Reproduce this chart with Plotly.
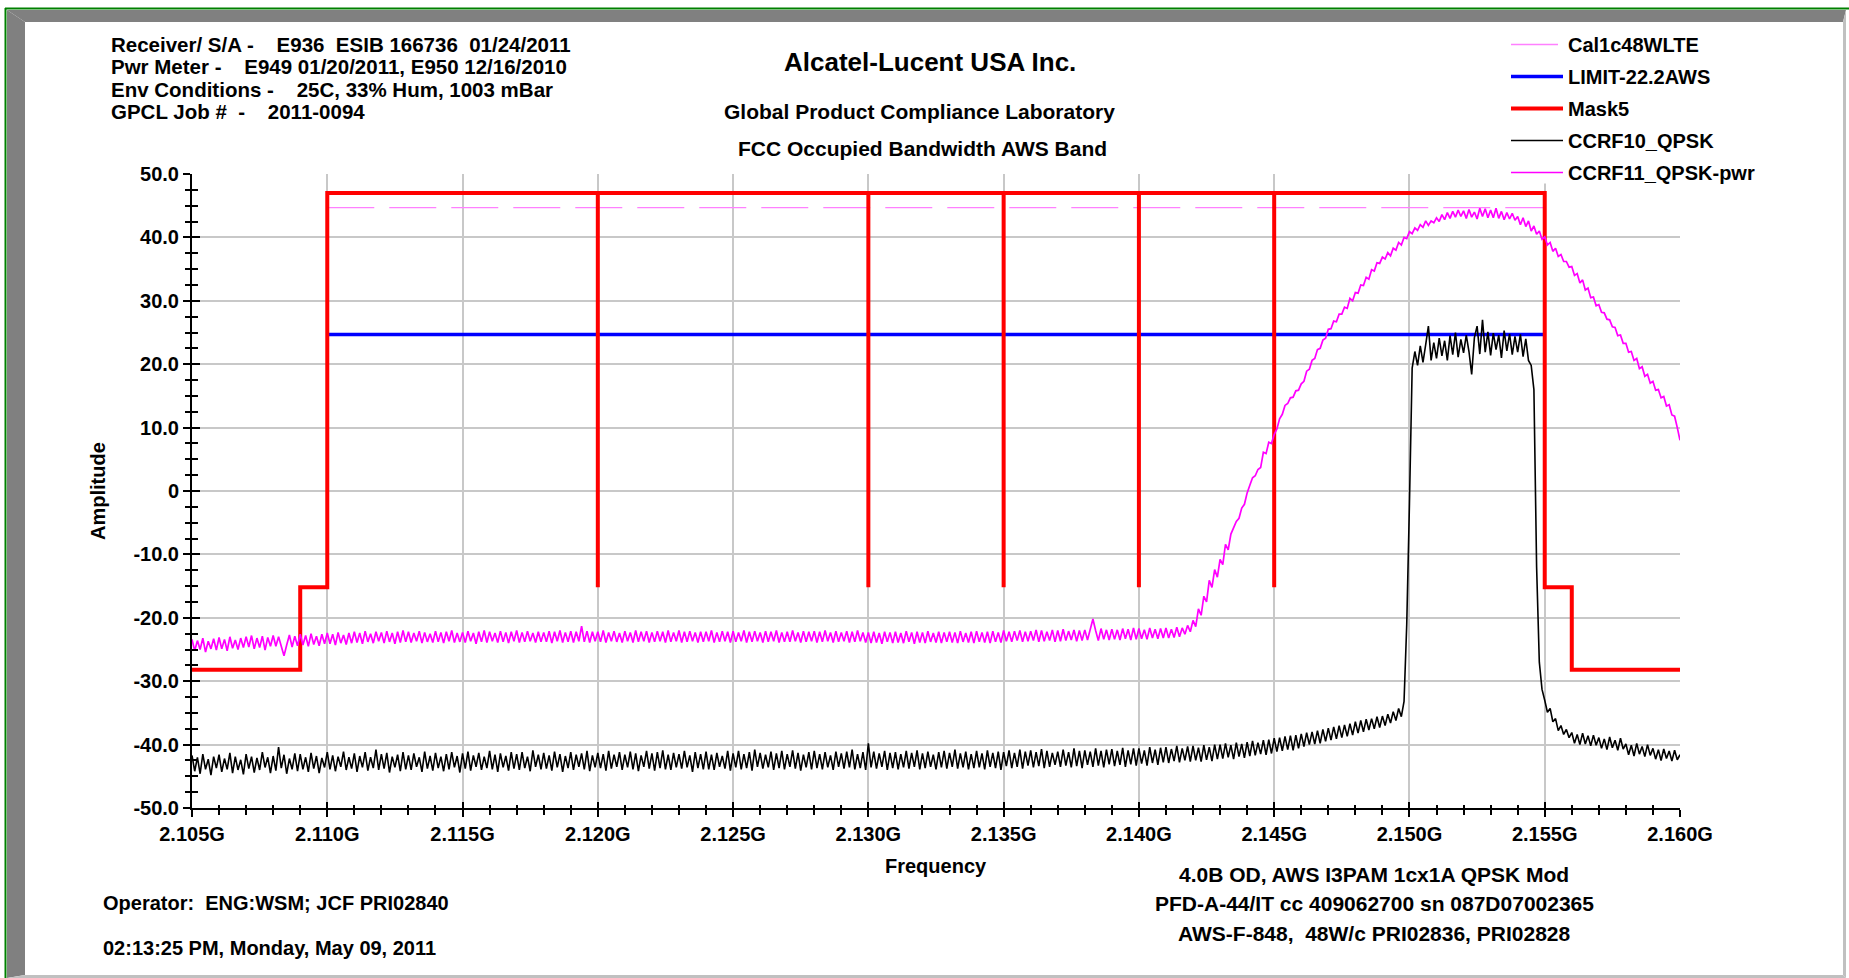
import numpy as np
import plotly.graph_objects as go

# ---------------- data ----------------
FREQ_START_GHZ = 2.105
FREQ_STOP_GHZ = 2.160
N_POINTS = 551

x_tick_vals = [2.105, 2.110, 2.115, 2.120, 2.125, 2.130, 2.135, 2.140, 2.145, 2.150, 2.155, 2.160]
x_tick_text = ["2.105G", "2.110G", "2.115G", "2.120G", "2.125G", "2.130G", "2.135G",
               "2.140G", "2.145G", "2.150G", "2.155G", "2.160G"]
y_tick_vals = [-50, -40, -30, -20, -10, 0, 10, 20, 30, 40, 50]
y_tick_text = ["-50.0", "-40.0", "-30.0", "-20.0", "-10.0", "0", "10.0", "20.0", "30.0", "40.0", "50.0"]

cal_freq = [2.110, 2.155]
cal_level = [44.7, 44.7]

limit_freq = [2.110, 2.155]
limit_level = [24.7, 24.7]

mask_freq = [2.105, 2.109, 2.109, 2.110, 2.110, 2.120, 2.120, 2.120, 2.130, 2.130, 2.130,
             2.135, 2.135, 2.135, 2.140, 2.140, 2.140, 2.145, 2.145, 2.145, 2.155, 2.155,
             2.156, 2.156, 2.160]
mask_level = [-28.2, -28.2, -15.2, -15.2, 47.0, 47.0, -15.2, 47.0, 47.0, -15.2, 47.0,
              47.0, -15.2, 47.0, 47.0, -15.2, 47.0, 47.0, -15.2, 47.0, 47.0, -15.2,
              -15.2, -28.2, -28.2]

ccrf10_qpsk = [
    -41.7, -44.2, -42.0, -44.6, -41.5, -43.9, -42.3, -44.8, -41.9, -43.7,  # 2.105
    -41.6, -44.3, -42.2, -43.9, -41.3, -44.5, -41.9, -44.0, -42.4, -44.7,  # 2.106
    -41.5, -43.8, -41.9, -44.4, -42.1, -44.0, -41.2, -43.6, -42.0, -44.5,  # 2.107
    -41.8, -44.1, -40.4, -43.7, -41.6, -44.6, -42.2, -43.9, -41.4, -44.2,  # 2.108
    -41.5, -43.9, -42.0, -44.3, -41.3, -43.8, -41.8, -44.5, -42.1, -43.6,  # 2.109
    -41.2, -43.9, -41.7, -44.2, -41.9, -43.5, -41.1, -44.0, -42.0, -43.8,  # 2.110
    -41.4, -44.3, -41.8, -43.6, -41.2, -44.1, -42.0, -43.7, -40.8, -44.0,  # 2.111
    -41.5, -43.8, -41.3, -44.4, -41.9, -43.6, -41.6, -44.2, -41.2, -43.9,  # 2.112
    -41.7, -44.0, -41.4, -43.5, -42.0, -44.3, -41.1, -43.8, -41.8, -44.1,  # 2.113
    -41.3, -43.7, -41.9, -44.2, -41.5, -43.9, -41.2, -43.6, -41.8, -44.4,  # 2.114
    -41.4, -43.8, -41.1, -44.1, -41.7, -43.5, -41.3, -44.0, -41.9, -43.7,  # 2.115
    -41.0, -43.9, -41.6, -44.3, -41.4, -43.6, -41.8, -44.1, -41.2, -43.8,  # 2.116
    -41.5, -44.0, -41.2, -43.7, -41.9, -44.2, -40.9, -43.5, -41.6, -43.9,  # 2.117
    -41.3, -43.8, -41.7, -44.1, -41.1, -43.6, -41.5, -44.3, -41.8, -43.7,  # 2.118
    -41.2, -44.0, -41.6, -43.5, -41.4, -43.9, -41.0, -44.2, -41.7, -43.6,  # 2.119
    -41.3, -43.7, -41.5, -44.1, -41.0, -43.8, -41.6, -43.5, -41.2, -44.0,  # 2.120
    -41.6, -43.6, -41.1, -43.9, -41.4, -44.2, -41.7, -43.5, -41.0, -43.8,  # 2.121
    -41.4, -44.1, -41.2, -43.7, -40.9, -43.9, -41.6, -44.0, -41.3, -43.6,  # 2.122
    -41.5, -43.8, -41.0, -43.6, -41.7, -44.3, -41.2, -43.7, -41.5, -43.9,  # 2.123
    -41.1, -43.9, -41.6, -44.0, -41.3, -43.5, -41.8, -43.8, -41.0, -44.1,  # 2.124
    -41.4, -43.6, -41.0, -43.9, -41.5, -43.7, -41.2, -44.1, -40.8, -43.5,  # 2.125
    -41.3, -43.8, -41.6, -43.6, -41.1, -44.0, -41.4, -43.7, -41.0, -43.9,  # 2.126
    -41.5, -43.5, -40.9, -43.8, -41.3, -44.1, -41.6, -43.6, -41.2, -43.9,  # 2.127
    -41.0, -43.7, -41.5, -43.9, -41.2, -43.6, -41.7, -44.0, -41.1, -43.5,  # 2.128
    -41.4, -43.8, -41.1, -43.6, -40.8, -43.9, -41.5, -43.7, -41.2, -44.0,  # 2.129
    -39.8, -43.6, -41.1, -43.8, -41.4, -43.5, -41.0, -44.0, -41.3, -43.7,  # 2.130
    -41.2, -43.9, -41.5, -43.6, -41.0, -43.8, -41.3, -43.5, -40.9, -43.9,  # 2.131
    -41.4, -43.7, -41.1, -43.5, -41.6, -43.9, -41.2, -43.6, -41.0, -43.8,  # 2.132
    -41.3, -43.5, -40.8, -43.8, -41.4, -43.6, -41.1, -43.9, -41.5, -43.7,  # 2.133
    -41.0, -43.6, -41.4, -43.9, -40.9, -43.5, -41.3, -43.7, -41.1, -44.0,  # 2.134
    -41.2, -43.4, -40.9, -43.7, -41.3, -43.5, -40.8, -43.8, -41.1, -43.3,  # 2.135
    -40.9, -43.6, -41.2, -43.4, -40.7, -43.7, -41.0, -43.5, -41.3, -43.2,  # 2.136
    -41.1, -43.5, -40.8, -43.3, -41.2, -43.6, -40.6, -43.4, -41.0, -43.7,  # 2.137
    -40.9, -43.2, -41.1, -43.5, -40.6, -43.3, -41.0, -43.6, -40.8, -43.1,  # 2.138
    -40.7, -43.4, -41.0, -43.2, -40.5, -43.5, -40.9, -43.1, -40.6, -43.3,  # 2.139
    -40.6, -43.0, -40.9, -43.3, -40.4, -42.9, -40.8, -43.2, -40.5, -42.8,  # 2.140
    -40.4, -42.9, -40.7, -42.6, -40.2, -42.8, -40.6, -42.5, -40.3, -42.7,  # 2.141
    -40.2, -42.5, -40.5, -42.7, -40.1, -42.4, -40.4, -42.6, -40.0, -42.3,  # 2.142
    -40.0, -42.2, -39.8, -42.0, -40.1, -42.3, -39.7, -41.9, -39.9, -42.1,  # 2.143
    -39.6, -41.8, -39.4, -41.7, -39.7, -41.5, -39.3, -41.6, -39.2, -41.4,  # 2.144
    -39.0, -41.1, -38.9, -41.0, -38.7, -40.8, -38.6, -40.9, -38.5, -40.6,  # 2.145
    -38.3, -40.3, -38.1, -40.0, -38.0, -39.9, -37.8, -39.8, -37.6, -39.5,  # 2.146
    -37.4, -39.3, -37.2, -39.1, -37.0, -38.9, -36.9, -38.7, -36.7, -38.5,  # 2.147
    -36.4, -38.2, -36.2, -38.0, -36.0, -37.7, -35.9, -37.5, -35.6, -37.3,  # 2.148
    -35.5, -37.0, -35.2, -36.6, -34.8, -36.2, -34.3, -35.6, -33.2, -21.0,  # 2.149
    -2.0, 19.4, 22.0, 19.8, 22.9, 20.3, 23.1, 26.0, 20.6, 23.4,            # 2.150
    20.9, 24.1, 21.3, 23.7, 20.6, 24.5, 21.5, 25.0, 21.1, 23.9,            # 2.151
    21.8, 24.6, 22.0, 18.4, 24.2, 26.0, 21.6, 27.0, 21.9, 25.1,            # 2.152
    21.4, 24.9, 22.3, 24.6, 21.0, 25.3, 22.1, 24.8, 21.5, 24.4,            # 2.153
    21.9, 24.7, 21.2, 24.0, 20.6, 19.8, 16.0, -12.0, -27.0, -31.3,         # 2.154
    -33.0, -34.9, -34.3, -36.4, -35.9, -37.8, -37.0, -38.4, -37.6, -38.9,  # 2.155
    -38.1, -39.8, -38.4, -40.0, -38.2, -39.9, -38.6, -40.2, -38.5, -40.1,  # 2.156
    -38.9, -40.6, -39.1, -40.8, -38.8, -40.5, -39.3, -40.9, -39.0, -40.7,  # 2.157
    -39.9, -41.6, -40.1, -41.8, -39.8, -41.5, -40.3, -41.9, -40.0, -41.7,  # 2.158
    -40.6, -42.3, -40.8, -42.5, -40.7, -42.2, -41.0, -42.6, -40.9, -42.4,  # 2.159
    -41.6,                                                                 # 2.160
]

ccrf11_qpsk_pwr = [
    -23.4, -25.2, -23.6, -25.0, -23.2, -25.4, -23.7, -24.9, -23.3, -25.1,  # 2.105
    -23.1, -24.9, -23.4, -25.2, -23.0, -24.8, -23.5, -25.0, -23.2, -24.7,  # 2.106
    -23.0, -24.6, -22.8, -24.9, -23.2, -24.7, -22.9, -25.1, -23.1, -24.5,  # 2.107
    -22.8, -24.5, -23.0, -24.6, -26.0, -24.3, -22.7, -24.6, -22.9, -24.4,  # 2.108
    -22.6, -24.3, -22.8, -24.5, -22.5, -24.2, -22.9, -24.4, -22.6, -24.1,  # 2.109
    -22.4, -24.1, -22.6, -24.3, -22.3, -24.0, -22.7, -24.2, -22.4, -24.0,  # 2.110
    -22.2, -23.9, -22.4, -24.1, -22.1, -23.8, -22.5, -24.0, -22.2, -23.7,  # 2.111
    -22.3, -24.0, -22.1, -23.8, -22.4, -24.1, -22.2, -23.9, -22.0, -23.8,  # 2.112
    -22.2, -23.9, -22.4, -23.7, -22.1, -24.0, -22.3, -23.8, -22.5, -23.9,  # 2.113
    -22.1, -23.8, -22.3, -24.0, -22.2, -23.7, -22.0, -23.9, -22.4, -23.8,  # 2.114
    -22.3, -23.9, -22.1, -23.7, -22.4, -24.1, -22.2, -23.8, -22.0, -23.9,  # 2.115
    -22.2, -23.7, -22.4, -23.9, -22.1, -23.8, -22.3, -24.0, -22.2, -23.7,  # 2.116
    -22.0, -23.9, -22.3, -23.8, -22.1, -23.7, -22.4, -23.9, -22.2, -23.8,  # 2.117
    -22.3, -23.8, -22.1, -24.0, -22.2, -23.7, -22.0, -23.9, -22.3, -23.8,  # 2.118
    -22.1, -23.9, -22.2, -23.7, -21.3, -23.8, -22.1, -23.9, -22.2, -23.7,  # 2.119
    -22.2, -23.8, -22.0, -23.9, -22.3, -23.7, -22.1, -23.8, -22.4, -23.9,  # 2.120
    -22.1, -23.7, -22.3, -23.9, -22.0, -23.8, -22.2, -23.7, -22.1, -23.9,  # 2.121
    -22.3, -23.8, -22.1, -23.7, -22.2, -23.9, -22.0, -23.8, -22.3, -23.7,  # 2.122
    -22.0, -23.9, -22.2, -23.8, -22.1, -23.7, -22.3, -23.9, -22.2, -23.8,  # 2.123
    -22.2, -23.7, -22.0, -23.9, -22.3, -23.8, -22.1, -23.7, -22.2, -23.9,  # 2.124
    -22.1, -23.8, -22.3, -23.7, -22.0, -23.9, -22.2, -23.8, -22.1, -23.7,  # 2.125
    -22.3, -23.9, -22.1, -23.8, -22.2, -23.7, -22.0, -23.9, -22.3, -23.8,  # 2.126
    -22.2, -23.8, -22.0, -23.7, -22.3, -23.9, -22.1, -23.8, -22.2, -23.7,  # 2.127
    -22.1, -23.9, -22.2, -23.8, -22.0, -23.7, -22.3, -23.9, -22.1, -23.8,  # 2.128
    -22.3, -23.7, -22.1, -23.9, -22.2, -23.8, -22.0, -23.7, -22.3, -23.9,  # 2.129
    -22.3, -24.0, -22.2, -23.9, -22.4, -24.1, -22.2, -23.8, -22.3, -24.0,  # 2.130
    -22.2, -23.9, -22.4, -24.0, -22.1, -23.8, -22.3, -24.1, -22.2, -23.9,  # 2.131
    -22.3, -24.0, -22.1, -23.8, -22.4, -23.9, -22.2, -24.0, -22.3, -23.8,  # 2.132
    -22.2, -23.9, -22.3, -24.0, -22.1, -23.8, -22.4, -23.9, -22.2, -24.0,  # 2.133
    -22.1, -23.8, -22.3, -23.9, -22.2, -24.0, -22.1, -23.8, -22.3, -23.9,  # 2.134
    -22.0, -23.7, -22.2, -23.8, -22.1, -23.6, -22.0, -23.8, -22.2, -23.7,  # 2.135
    -22.1, -23.6, -21.9, -23.8, -22.0, -23.7, -22.2, -23.6, -21.9, -23.8,  # 2.136
    -22.0, -23.7, -21.8, -23.6, -22.1, -23.5, -21.9, -23.7, -22.0, -23.6,  # 2.137
    -21.9, -23.5, -21.8, -20.2, -22.0, -23.6, -21.7, -23.4, -21.9, -23.5,  # 2.138
    -21.8, -23.4, -21.9, -23.5, -21.7, -23.3, -21.8, -23.5, -21.6, -23.4,  # 2.139
    -21.7, -23.3, -21.9, -23.4, -21.6, -23.2, -21.8, -23.3, -21.7, -23.2,  # 2.140
    -21.6, -23.2, -21.8, -23.1, -21.5, -23.0, -21.6, -22.6, -21.2, -22.2,  # 2.141
    -20.4, -21.4, -18.6, -19.6, -16.6, -17.5, -14.1, -15.2, -12.4, -13.6,  # 2.142
    -10.8, -11.6, -8.4, -9.3, -6.8, -5.9, -4.8, -4.3, -2.7, -2.1,          # 2.143
    -0.3, 0.9, 2.1, 2.4, 3.4, 3.7, 6.1, 5.9, 7.7, 7.5,                     # 2.144
    8.9, 9.8, 11.4, 12.1, 13.5, 13.8, 14.7, 14.8, 15.8, 15.9,              # 2.145
    16.9, 17.3, 18.9, 19.2, 20.6, 20.9, 22.3, 22.5, 23.8, 24.1,            # 2.146
    25.5, 25.6, 26.8, 26.7, 27.9, 27.9, 29.0, 28.8, 30.4, 30.0,            # 2.147
    31.3, 31.2, 32.5, 32.4, 33.7, 33.4, 34.9, 34.7, 36.0, 35.9,            # 2.148
    36.9, 36.6, 37.6, 37.1, 38.3, 38.0, 39.2, 38.8, 40.0, 39.8,            # 2.149
    40.9, 40.6, 41.5, 41.1, 42.0, 41.6, 42.6, 41.9, 42.6, 42.3,            # 2.150
    43.1, 42.5, 43.6, 42.8, 43.9, 43.0, 44.1, 43.2, 44.3, 43.3,            # 2.151
    44.2, 43.0, 44.4, 43.2, 44.0, 42.9, 44.6, 43.3, 44.5, 43.1,            # 2.152
    44.3, 43.1, 44.6, 43.0, 44.1, 42.8, 43.9, 42.9, 43.8, 42.7,            # 2.153
    43.3, 42.0, 43.1, 41.7, 42.6, 41.0, 41.8, 40.5, 41.0, 39.7,            # 2.154
    40.1, 38.8, 39.2, 37.8, 38.3, 37.0, 37.3, 36.2, 36.2, 35.3,            # 2.155
    35.4, 34.0, 34.3, 32.8, 33.3, 31.7, 32.0, 30.5, 30.6, 29.2,            # 2.156
    29.4, 28.2, 28.1, 27.1, 27.0, 25.9, 25.8, 24.5, 24.6, 23.3,            # 2.157
    23.3, 21.9, 22.0, 20.6, 20.9, 19.3, 19.6, 18.1, 18.4, 17.0,            # 2.158
    17.3, 15.9, 16.0, 14.7, 14.9, 13.4, 13.6, 12.0, 11.8, 10.0,            # 2.159
    8.0,                                                                   # 2.160
]

if len(ccrf10_qpsk) != N_POINTS or len(ccrf11_qpsk_pwr) != N_POINTS:
    raise SystemExit(f"count mismatch {len(ccrf10_qpsk)} {len(ccrf11_qpsk_pwr)}")

sweep_freq = np.linspace(FREQ_START_GHZ, FREQ_STOP_GHZ, N_POINTS)

header_lines = [
    "Receiver/ S/A -\u00a0\u00a0\u00a0 E936\u00a0 ESIB 166736\u00a0 01/24/2011",
    "Pwr Meter -\u00a0\u00a0\u00a0 E949 01/20/2011, E950 12/16/2010",
    "Env Conditions -\u00a0\u00a0\u00a0 25C, 33% Hum, 1003 mBar",
    "GPCL Job #\u00a0 -\u00a0\u00a0\u00a0 2011-0094",
]
footer_right_lines = [
    "4.0B OD, AWS I3PAM 1cx1A QPSK Mod",
    "PFD-A-44/IT cc 409062700 sn 087D07002365",
    "AWS-F-848,\u00a0 48W/c PRI02836, PRI02828",
]

# ---------------- layout helpers ----------------
W, H = 1849, 978
PX_L, PX_R, PX_T, PX_B = 192, 1680, 174, 808
FONT = "Liberation Sans, Arial, Helvetica, sans-serif"


def fx(x):
    return x / W


def fy(y):
    return 1 - y / H


def ppath(pts):
    return "M " + " L ".join(f"{fx(x):.5f},{fy(y):.5f}" for x, y in pts) + " Z"


fig = go.Figure()

fig.add_trace(go.Scatter(x=cal_freq, y=cal_level, mode="lines", name="Cal1c48WLTE",
                         legendgroup="a", line=dict(color="#ff80ff", width=1.3, dash="47px,15px")))
fig.add_trace(go.Scatter(x=limit_freq, y=limit_level, mode="lines", name="LIMIT-22.2AWS",
                         legendgroup="b", line=dict(color="#0000ff", width=3.5)))
fig.add_trace(go.Scatter(x=mask_freq, y=mask_level, mode="lines", name="Mask5",
                         legendgroup="c", line=dict(color="#ff0000", width=4)))
fig.add_trace(go.Scatter(x=sweep_freq, y=ccrf10_qpsk, mode="lines", name="CCRF10_QPSK",
                         legendgroup="d", line=dict(color="#000000", width=1.6)))
fig.add_trace(go.Scatter(x=sweep_freq, y=ccrf11_qpsk_pwr, mode="lines", name="CCRF11_QPSK-pwr",
                         legendgroup="e", line=dict(color="#ff00ff", width=1.7)))
# carrier for the inward tick marks axis pair
fig.add_trace(go.Scatter(x=[None], y=[None], xaxis="x2", yaxis="y2", showlegend=False,
                         hoverinfo="skip"))

tickfont = dict(family=FONT, size=20, color="black", weight="bold")
xr = [FREQ_START_GHZ, FREQ_STOP_GHZ]
yr = [-50, 50]

fig.update_layout(
    template="none",
    width=W, height=H, autosize=False,
    margin=dict(l=0, r=0, t=0, b=0, pad=0, autoexpand=False),
    paper_bgcolor="white", plot_bgcolor="white",
    font=dict(family=FONT, color="black"),
    xaxis=dict(domain=[fx(PX_L), fx(PX_R)], range=xr, tickmode="array", automargin=False,
               tickvals=x_tick_vals, ticktext=x_tick_text, tickfont=tickfont,
               ticks="outside", ticklen=7, tickwidth=2, tickcolor="black",
               showgrid=True, gridcolor="#c8c8c8", gridwidth=2,
               showline=True, linecolor="black", linewidth=2, zeroline=False,
               minor=dict(ticks="outside", ticklen=5, tickwidth=1.5, tickcolor="black",
                          tickmode="linear", tick0=2.105, dtick=0.001, showgrid=False)),
    yaxis=dict(domain=[fy(PX_B), fy(PX_T)], range=yr, tickmode="array", automargin=False,
               tickvals=y_tick_vals, ticktext=y_tick_text, tickfont=tickfont,
               ticks="outside", ticklen=7, tickwidth=2, tickcolor="black",
               showgrid=True, gridcolor="#c8c8c8", gridwidth=2,
               showline=True, linecolor="black", linewidth=2, zeroline=False,
               minor=dict(ticks="outside", ticklen=5, tickwidth=1.5, tickcolor="black",
                          tickmode="linear", tick0=-50, dtick=2.5, showgrid=False)),
    xaxis2=dict(overlaying="x", anchor="y2", side="bottom", range=xr, tickmode="array",
                tickvals=x_tick_vals, showticklabels=False, automargin=False,
                ticks="inside", ticklen=6, tickwidth=2, tickcolor="black",
                showgrid=False, showline=False, zeroline=False,
                minor=dict(ticks="inside", ticklen=3, tickwidth=1.5, tickcolor="black",
                           tickmode="linear", tick0=2.105, dtick=0.001, showgrid=False)),
    yaxis2=dict(overlaying="y", anchor="x2", side="left", range=yr, tickmode="array",
                tickvals=y_tick_vals, showticklabels=False, automargin=False,
                ticks="inside", ticklen=8, tickwidth=2, tickcolor="black",
                showgrid=False, showline=False, zeroline=False,
                minor=dict(ticks="inside", ticklen=6, tickwidth=1.5, tickcolor="black",
                           tickmode="linear", tick0=-50, dtick=2.5, showgrid=False)),
    legend=dict(x=fx(1506), y=fy(25), xanchor="left", yanchor="top",
                bgcolor="rgba(0,0,0,0)", borderwidth=0, tracegroupgap=3, itemwidth=52,
                font=dict(family=FONT, size=20, color="black", weight="bold")),
    showlegend=True,
)

annotations = []


def add_text(text, x, y, size, xanchor="left", angle=0):
    annotations.append(dict(text=text, x=fx(x), y=fy(y), xref="paper", yref="paper",
                            xanchor=xanchor, yanchor="middle", showarrow=False,
                            textangle=angle,
                            font=dict(family=FONT, size=size, color="black", weight="bold")))


for i, line in enumerate(header_lines):
    add_text(line, 109, 45 + i * 22, 20.5)

add_text("Alcatel-Lucent USA Inc.", 930, 62, 26, "center")
add_text("Global Product Compliance Laboratory", 919, 111, 21, "center")
add_text("FCC Occupied Bandwidth AWS Band", 922, 149, 21, "center")
add_text("Amplitude", 98, 491, 20, "center", -90)
add_text("Frequency", 936, 866, 20, "center")
add_text("Operator:\u00a0 ENG:WSM; JCF PRI02840", 101, 903, 20)
add_text("02:13:25 PM, Monday, May 09, 2011", 101, 948, 20)
for i, line in enumerate(footer_right_lines):
    add_text(line, 1374, 874 + i * 29.5, 21, "center")

fig.update_layout(annotations=annotations)

# legend backdrop corner inside the plot (hides gridlines beneath the legend block)
legend_backdrop = dict(type="rect", xref="x", yref="y", layer="between",
                       x0=2.1531, x1=FREQ_STOP_GHZ + 0.0005, y0=48.5, y1=50.5,
                       fillcolor="white", line=dict(width=0))

shapes = [
    legend_backdrop,
    dict(type="path", xref="paper", yref="paper", layer="above",
         path=ppath([(7, 10), (1846, 10), (1843, 22), (25, 22)]),
         fillcolor="#808080", line=dict(width=0)),
    dict(type="path", xref="paper", yref="paper", layer="above",
         path=ppath([(7, 10), (25, 22), (25, 975), (7, 978)]),
         fillcolor="#808080", line=dict(width=0)),
    dict(type="path", xref="paper", yref="paper", layer="above",
         path=ppath([(1843, 22), (1846, 10), (1846, 978), (1843, 975)]),
         fillcolor="#c0c0c0", line=dict(width=0)),
    dict(type="path", xref="paper", yref="paper", layer="above",
         path=ppath([(7, 978), (25, 975), (1843, 975), (1846, 978)]),
         fillcolor="#c0c0c0", line=dict(width=0)),
    dict(type="line", xref="paper", yref="paper", x0=fx(5), x1=fx(1849), y0=fy(8.5), y1=fy(8.5),
         line=dict(color="#008000", width=2)),
    dict(type="line", xref="paper", yref="paper", x0=fx(5.5), x1=fx(5.5), y0=fy(8), y1=fy(978),
         line=dict(color="#008000", width=2)),
]
fig.update_layout(shapes=shapes)

fig.write_html("out.html", config={"displayModeBar": False})
